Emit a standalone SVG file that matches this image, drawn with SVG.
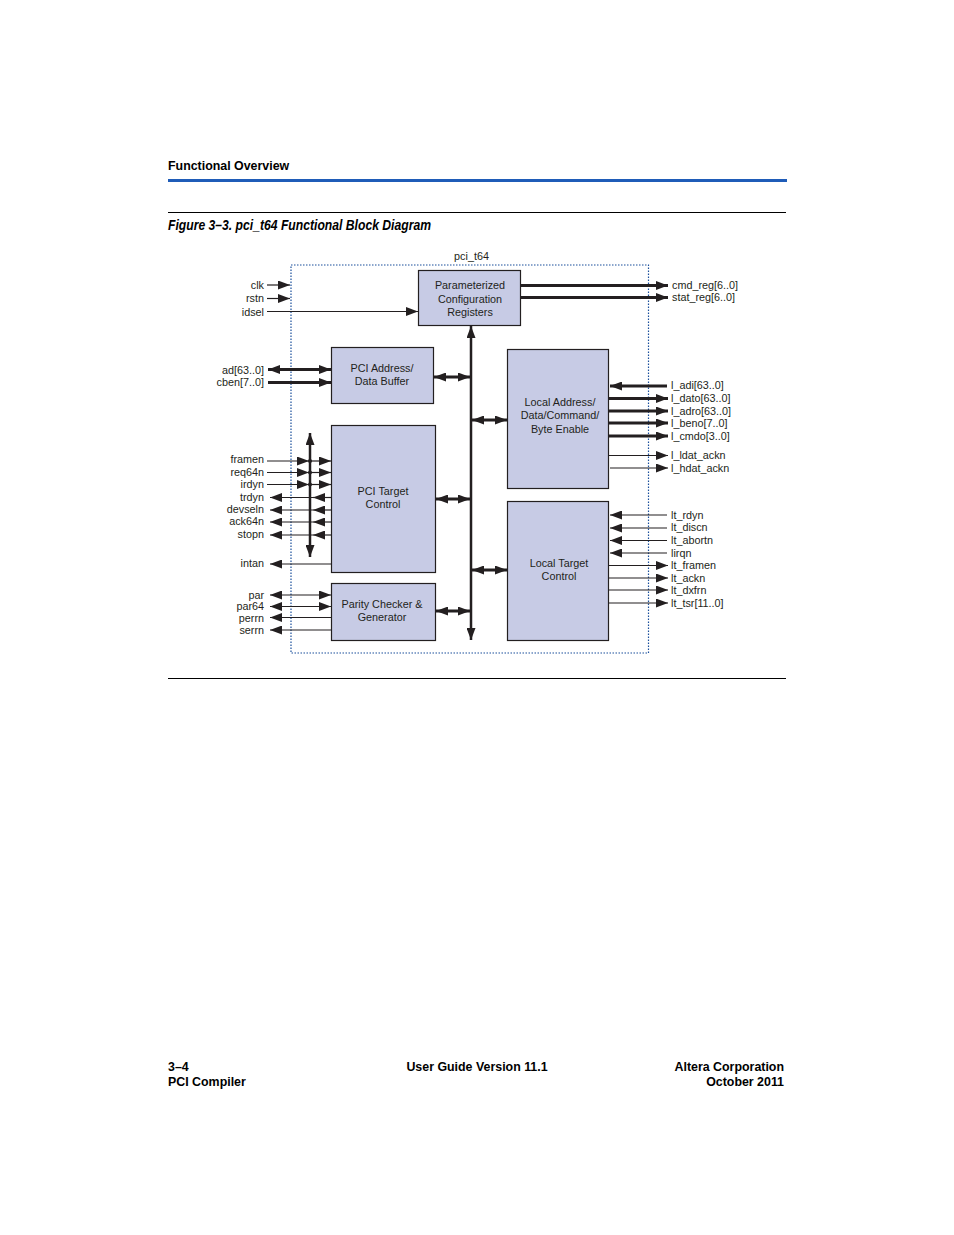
<svg xmlns="http://www.w3.org/2000/svg" width="954" height="1235" viewBox="0 0 954 1235">
<style>
.t{font-family:"Liberation Sans",Arial,sans-serif;font-size:10.8px;fill:#231f20}
.r{text-anchor:end}
.m{text-anchor:middle}
.hb{font-family:"Liberation Sans",Arial,sans-serif;font-size:12.4px;font-weight:bold;fill:#000}
.box{fill:#c7cbe5;stroke:#231f20;stroke-width:1.2}
.w{stroke:#231f20;stroke-width:1.2;fill:none}
.k{stroke:#231f20;stroke-width:3;fill:none}
.b{stroke:#231f20;stroke-width:2.5;fill:none}
.ae{marker-end:url(#ar)}
.as{marker-start:url(#ar)}
</style>
<defs>
<marker id="ar" markerUnits="userSpaceOnUse" markerWidth="12" markerHeight="9" refX="12" refY="4.5" orient="auto-start-reverse" viewBox="0 0 12 9">
<path d="M0,0 L12,4.5 L0,9 Z" fill="#231f20"/>
</marker>
</defs>
<rect width="954" height="1235" fill="#fff"/>
<g id="header">
<text class="hb" x="168" y="170">Functional Overview</text>
<line x1="168" y1="180.5" x2="787" y2="180.5" stroke="#1f5cb8" stroke-width="3"/>
<line x1="168" y1="212.5" x2="786" y2="212.5" stroke="#000" stroke-width="1"/>
<text x="168" y="230" font-family="Liberation Sans,Arial,sans-serif" font-size="14.5" font-weight="bold" font-style="italic" textLength="263" lengthAdjust="spacingAndGlyphs">Figure 3–3. pci_t64 Functional Block Diagram</text>
<line x1="168" y1="678.5" x2="786" y2="678.5" stroke="#000" stroke-width="1"/>
</g>
<g id="footer">
<text class="hb" x="168" y="1071">3–4</text>
<text class="hb" x="168" y="1086">PCI Compiler</text>
<text class="hb m" x="477" y="1071">User Guide Version 11.1</text>
<text class="hb r" x="784" y="1071">Altera Corporation</text>
<text class="hb r" x="784" y="1086">October 2011</text>
</g>
<g id="pci_t64">
<rect x="291" y="265" width="357.5" height="388" fill="none" stroke="#1a4f9c" stroke-width="1.2" stroke-dasharray="1.5 1.5"/>
<text class="t m" x="471.5" y="260">pci_t64</text>
</g>
<g id="config">
<rect class="box" x="418.5" y="270.5" width="102" height="55"/>
<text class="t m" x="470" y="289">Parameterized</text>
<text class="t m" x="470" y="303">Configuration</text>
<text class="t m" x="470" y="316">Registers</text>
</g>
<g id="addrbuf">
<rect class="box" x="331.5" y="347.5" width="102" height="56"/>
<text class="t m" x="382" y="372">PCI Address/</text>
<text class="t m" x="382" y="385">Data Buffer</text>
</g>
<g id="targetctl">
<rect class="box" x="331.5" y="425.5" width="104" height="147"/>
<text class="t m" x="383" y="495">PCI Target</text>
<text class="t m" x="383" y="508">Control</text>
</g>
<g id="parity">
<rect class="box" x="331.5" y="583.5" width="104" height="57"/>
<text class="t m" x="382" y="608">Parity Checker &amp;</text>
<text class="t m" x="382" y="621">Generator</text>
</g>
<g id="localaddr">
<rect class="box" x="507.5" y="349.5" width="101" height="139"/>
<text class="t m" x="560" y="406">Local Address/</text>
<text class="t m" x="560" y="419">Data/Command/</text>
<text class="t m" x="560" y="433">Byte Enable</text>
</g>
<g id="localtarget">
<rect class="box" x="507.5" y="501.5" width="101" height="139"/>
<text class="t m" x="559" y="567">Local Target</text>
<text class="t m" x="559" y="580">Control</text>
</g>
<g id="connectors">
<line class="b as ae" x1="471" y1="326" x2="471" y2="640"/>
<line class="k as ae" x1="434" y1="377" x2="470" y2="377"/>
<line class="k as ae" x1="472" y1="420" x2="507" y2="420"/>
<line class="k as ae" x1="436" y1="499" x2="470" y2="499"/>
<line class="k as ae" x1="472" y1="570" x2="507" y2="570"/>
<line class="k as ae" x1="436" y1="611" x2="470" y2="611"/>
<line class="w ae" x1="267" y1="285" x2="290" y2="285"/>
<line class="w ae" x1="267" y1="298.5" x2="290" y2="298.5"/>
<line class="w ae" x1="267" y1="311.5" x2="418" y2="311.5"/>
<line class="k as ae" x1="268" y1="369.5" x2="331" y2="369.5"/>
<line class="k ae" x1="268" y1="382.5" x2="331" y2="382.5"/>
<line class="b as ae" x1="310" y1="433" x2="310" y2="557"/>
<line class="w ae" x1="267" y1="461" x2="309" y2="461"/>
<line class="w ae" x1="309" y1="461" x2="331" y2="461"/>
<line class="w ae" x1="267" y1="472.5" x2="309" y2="472.5"/>
<line class="w ae" x1="309" y1="472.5" x2="331" y2="472.5"/>
<line class="w ae" x1="267" y1="484.5" x2="309" y2="484.5"/>
<line class="w ae" x1="309" y1="484.5" x2="331" y2="484.5"/>
<circle cx="310" cy="461" r="2" fill="#231f20"/>
<circle cx="310" cy="472.5" r="2" fill="#231f20"/>
<circle cx="310" cy="484.5" r="2" fill="#231f20"/>
<line class="w ae" x1="331" y1="497.5" x2="313" y2="497.5"/>
<line class="w ae" x1="313" y1="497.5" x2="270" y2="497.5"/>
<line class="w ae" x1="331" y1="510" x2="313" y2="510"/>
<line class="w ae" x1="313" y1="510" x2="270" y2="510"/>
<line class="w ae" x1="331" y1="522" x2="313" y2="522"/>
<line class="w ae" x1="313" y1="522" x2="270" y2="522"/>
<line class="w ae" x1="331" y1="535" x2="313" y2="535"/>
<line class="w ae" x1="313" y1="535" x2="270" y2="535"/>
<line class="w ae" x1="331" y1="564" x2="270" y2="564"/>
<line class="w as ae" x1="270" y1="595" x2="331" y2="595"/>
<line class="w as ae" x1="270" y1="606.5" x2="331" y2="606.5"/>
<line class="w ae" x1="331" y1="617.5" x2="270" y2="617.5"/>
<line class="w ae" x1="331" y1="630" x2="270" y2="630"/>
<line class="k ae" x1="521" y1="285.5" x2="668" y2="285.5"/>
<line class="k ae" x1="521" y1="297.5" x2="668" y2="297.5"/>
<line class="k ae" x1="667" y1="386" x2="610" y2="386"/>
<line class="k ae" x1="609" y1="398.5" x2="668" y2="398.5"/>
<line class="k ae" x1="609" y1="411" x2="668" y2="411"/>
<line class="k ae" x1="609" y1="423" x2="668" y2="423"/>
<line class="k ae" x1="609" y1="436" x2="668" y2="436"/>
<line class="w ae" x1="609" y1="455.5" x2="668" y2="455.5"/>
<line class="w ae" x1="610" y1="468" x2="668" y2="468"/>
<line class="w ae" x1="667" y1="515" x2="610" y2="515"/>
<line class="w ae" x1="667" y1="528" x2="610" y2="528"/>
<line class="w ae" x1="667" y1="540.5" x2="610" y2="540.5"/>
<line class="w ae" x1="667" y1="553" x2="610" y2="553"/>
<line class="w ae" x1="609" y1="565.5" x2="668" y2="565.5"/>
<line class="w ae" x1="609" y1="578" x2="668" y2="578"/>
<line class="w ae" x1="609" y1="590" x2="668" y2="590"/>
<line class="w ae" x1="609" y1="603" x2="668" y2="603" stroke-width="2"/>
</g>
<g id="labels">
<text class="t r" x="264" y="289">clk</text>
<text class="t r" x="264" y="302">rstn</text>
<text class="t r" x="264" y="316">idsel</text>
<text class="t r" x="264" y="374">ad[63..0]</text>
<text class="t r" x="264" y="386">cben[7..0]</text>
<text class="t r" x="264" y="463">framen</text>
<text class="t r" x="264" y="476">req64n</text>
<text class="t r" x="264" y="488">irdyn</text>
<text class="t r" x="264" y="501">trdyn</text>
<text class="t r" x="264" y="513">devseln</text>
<text class="t r" x="264" y="525">ack64n</text>
<text class="t r" x="264" y="538">stopn</text>
<text class="t r" x="264" y="567">intan</text>
<text class="t r" x="264" y="599">par</text>
<text class="t r" x="264" y="610">par64</text>
<text class="t r" x="264" y="622">perrn</text>
<text class="t r" x="264" y="634">serrn</text>
<text class="t" x="672" y="289">cmd_reg[6..0]</text>
<text class="t" x="672" y="301">stat_reg[6..0]</text>
<text class="t" x="671" y="389">l_adi[63..0]</text>
<text class="t" x="671" y="402">l_dato[63..0]</text>
<text class="t" x="671" y="415">l_adro[63..0]</text>
<text class="t" x="671" y="427">l_beno[7..0]</text>
<text class="t" x="671" y="440">l_cmdo[3..0]</text>
<text class="t" x="671" y="459">l_ldat_ackn</text>
<text class="t" x="671" y="472">l_hdat_ackn</text>
<text class="t" x="671" y="519">lt_rdyn</text>
<text class="t" x="671" y="531">lt_discn</text>
<text class="t" x="671" y="544">lt_abortn</text>
<text class="t" x="671" y="557">lirqn</text>
<text class="t" x="671" y="569">lt_framen</text>
<text class="t" x="671" y="582">lt_ackn</text>
<text class="t" x="671" y="594">lt_dxfrn</text>
<text class="t" x="671" y="607">lt_tsr[11..0]</text>
</g>
</svg>
